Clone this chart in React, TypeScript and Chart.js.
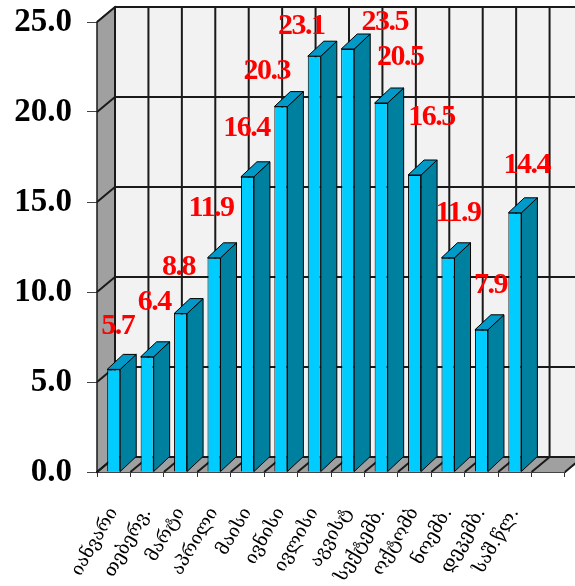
import React, { useEffect, useRef } from "react";
import { Chart, registerables } from "chart.js";

Chart.register(...registerables);

// Monthly mean air temperature, °C, plus the annual mean
const months = [
  "იანვარი",
  "თებერვ.",
  "მარტი",
  "აპრილი",
  "მაისი",
  "ივნისი",
  "ივლისი",
  "აგვისტ",
  "სექტემბ.",
  "ოქტომბ",
  "ნოემბ.",
  "დეკემბ.",
  "საშ.წლ.",
  "",
];
const temperatures: (number | null)[] = [
  5.7, 6.4, 8.8, 11.9, 16.4, 20.3, 23.1, 23.5, 20.5, 16.5, 11.9, 7.9, 14.4, null,
];
const yMin = 0;
const yMax = 25;
const yStep = 5;

// Depth of the walls and of the bars (the pseudo-3D look)
const WALL_DX = 18;
const WALL_DY = 15;
const BAR_DX = 16;
const BAR_DY = 15;

const FRONT = "#00CCFF";
const SIDE = "#00809F";
const TOP = "#0099C8";
const WALL = "#F2F2F2";
const SHADE = "#A0A0A0";
const GRID = "#1a1a1a";

function poly(ctx: CanvasRenderingContext2D, pts: number[][]) {
  ctx.beginPath();
  ctx.moveTo(pts[0][0], pts[0][1]);
  for (let i = 1; i < pts.length; i++) ctx.lineTo(pts[i][0], pts[i][1]);
  ctx.closePath();
}

const walls3d = {
  id: "walls3d",
  beforeDatasetsDraw(chart: any) {
    const { ctx, chartArea: a, scales } = chart;
    const ys = scales.y;
    const xs = scales.x;
    const L = a.left, R = a.right, T = a.top, B = a.bottom;
    ctx.save();

    // back wall
    ctx.fillStyle = WALL;
    ctx.fillRect(L + WALL_DX, T - WALL_DY, R - L, B - T);

    // side wall
    poly(ctx, [[L, B], [L, T], [L + WALL_DX, T - WALL_DY], [L + WALL_DX, B - WALL_DY]]);
    ctx.fillStyle = SHADE;
    ctx.fill();

    // floor
    poly(ctx, [[L, B], [R, B], [R + WALL_DX, B - WALL_DY], [L + WALL_DX, B - WALL_DY]]);
    ctx.fillStyle = SHADE;
    ctx.fill();

    ctx.strokeStyle = GRID;
    ctx.lineWidth = 2;

    // value gridlines across side wall and back wall
    for (const t of ys.ticks) {
      const py = ys.getPixelForValue(t.value);
      ctx.beginPath();
      ctx.moveTo(L, py);
      ctx.lineTo(L + WALL_DX, py - WALL_DY);
      ctx.lineTo(R + WALL_DX, py - WALL_DY);
      ctx.stroke();
    }

    // category gridlines on back wall and floor
    const n = chart.data.labels.length;
    for (let k = 0; k <= n; k++) {
      const px = xs.getPixelForValue(k - 0.5);
      ctx.beginPath();
      ctx.moveTo(px + WALL_DX, T - WALL_DY);
      ctx.lineTo(px + WALL_DX, B - WALL_DY);
      ctx.lineTo(px, B);
      ctx.stroke();
    }

    // side wall outline
    ctx.lineWidth = 1.5;
    poly(ctx, [[L, B], [L, T], [L + WALL_DX, T - WALL_DY], [L + WALL_DX, B - WALL_DY]]);
    ctx.stroke();
    ctx.restore();
  },
  afterDatasetsDraw(chart: any, _args: any, opts: any) {
    const { ctx } = chart;
    const meta = chart.getDatasetMeta(0);
    const values = chart.data.datasets[0].data;
    ctx.save();
    ctx.strokeStyle = "#000";
    ctx.lineWidth = 1;
    ctx.lineJoin = "round";
    meta.data.forEach((bar: any, i: number) => {
      if (values[i] == null) return;
      const { x, y, width, base } = bar.getProps(["x", "y", "width", "base"], true);
      const l = x - width / 2;
      const r = x + width / 2;
      // right side face
      poly(ctx, [[r, y], [r + BAR_DX, y - BAR_DY], [r + BAR_DX, base - BAR_DY], [r, base]]);
      ctx.fillStyle = SIDE;
      ctx.fill();
      ctx.stroke();
      // top face
      poly(ctx, [[l, y], [r, y], [r + BAR_DX, y - BAR_DY], [l + BAR_DX, y - BAR_DY]]);
      ctx.fillStyle = TOP;
      ctx.fill();
      ctx.stroke();
    });

    // value labels
    ctx.fillStyle = "#FF0000";
    ctx.font = "bold 30px 'Liberation Serif', 'Times New Roman', serif";
    (ctx as any).letterSpacing = "-1.5px";
    ctx.textAlign = "center";
    ctx.textBaseline = "middle";
    const nudges: number[][] = opts.nudges || [];
    meta.data.forEach((bar: any, i: number) => {
      const v = values[i];
      if (v == null) return;
      const { x, y } = bar.getProps(["x", "y"], true);
      const [dx, dy] = nudges[i] || [0, -48];
      ctx.fillText(Number(v).toFixed(1), x + dx, y + dy + 2);
    });
    ctx.restore();
  },
};

export default function App() {
  const canvasRef = useRef<HTMLCanvasElement | null>(null);

  useEffect(() => {
    const canvas = canvasRef.current;
    if (!canvas) return;
    const chart = new Chart(canvas, {
      type: "bar",
      data: {
        labels: months,
        datasets: [
          {
            data: temperatures,
            backgroundColor: FRONT,
            borderColor: "#000",
            borderWidth: 1,
            barPercentage: 1,
            categoryPercentage: 0.39,
          },
        ],
      },
      options: {
        responsive: false,
        animation: false,
        devicePixelRatio: 1,
        layout: { padding: { top: 22, right: 10, left: 0, bottom: 0 } },
        plugins: {
          legend: { display: false },
          tooltip: { enabled: false },
          walls3d: {
            nudges: [
              [4, -45], [7, -57], [-2, -48], [-3, -52], [-1, -51], [-14, -37], [-13, -32],
              [37, -29], [19, -48], [17, -60], [10, -47], [9, -47], [12, -50],
            ],
          },
        } as any,
        scales: {
          x: {
            grid: {
              drawOnChartArea: false,
              drawTicks: true,
              tickLength: 5,
              color: "#333",
              offset: true,
            },
            border: { display: true, color: "#444", width: 2 },
            ticks: {
              autoSkip: false,
              maxRotation: 60,
              minRotation: 60,
              padding: 27,
              color: "#000",
              font: { family: "'DejaVu Serif', 'DejaVu Sans', serif", size: 18 },
            },
            afterFit: (s: any) => {
              s.height = 114;
              s.paddingLeft = 0;
              s.paddingRight = 0;
            },
          },
          y: {
            min: yMin,
            max: yMax,
            grid: {
              drawOnChartArea: false,
              drawTicks: true,
              tickLength: 10,
              color: "#444",
            },
            border: { display: false },
            ticks: {
              stepSize: yStep,
              padding: 15,
              color: "#000",
              font: { family: "'Liberation Serif', 'Times New Roman', serif", size: 33, weight: "bold" },
              callback: (v: any) => Number(v).toFixed(1),
            },
            afterFit: (s: any) => {
              s.width = 97;
              s.paddingTop = 0;
              s.paddingBottom = 0;
            },
          },
        },
      },
      plugins: [walls3d],
    });
    return () => chart.destroy();
  }, []);

  return (
    <div style={{ position: "fixed", left: 0, top: 0, width: 575, height: 586, background: "#fff" }}>
      <canvas ref={canvasRef} width={575} height={586} />
    </div>
  );
}
